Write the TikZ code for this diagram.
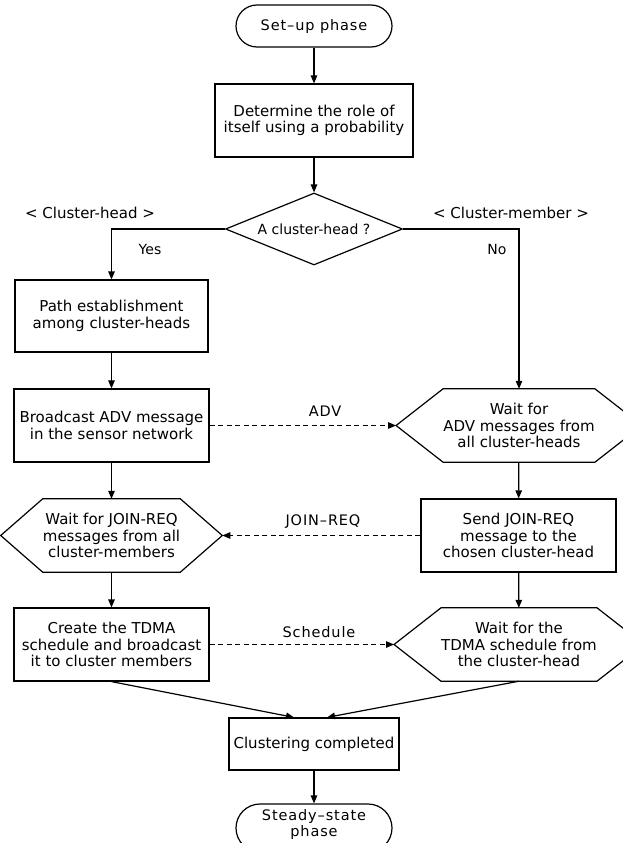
\documentclass[tikz,border=0pt]{standalone}
\usepackage{fontspec}
\setmainfont{DejaVu Sans}
\newfontfamily\gfont[LetterSpace=6]{DejaVu Sans}
\usetikzlibrary{arrows.meta,shapes.geometric}
\begin{document}
\begin{tikzpicture}[x=1pt,y=-1pt,
  conn/.style={line width=1.2pt},
  arr/.style={conn, -{Triangle[length=8pt,width=6.5pt]}},
  dasharr/.style={arr, dash pattern=on 5pt off 3.5pt},
  txt/.style={align=center, inner sep=0pt, font=\fontsize{15}{16.5}\selectfont},
  box/.style={txt, draw, line width=1.2pt, rectangle},
  hexin/.style={txt, rectangle},
  term/.style={draw, line width=1.2pt, align=center, inner sep=0pt, minimum width=156pt, font=\gfont\fontsize{14.5}{16}\selectfont},
  lab/.style={inner sep=0pt, font=\fontsize{15}{17}\selectfont},
  small/.style={inner sep=0pt, font=\fontsize{14}{17}\selectfont},
  glab/.style={inner sep=0pt, font=\gfont\fontsize{14.5}{17}\selectfont},
]
\useasboundingbox (0,0) rectangle (623,843);

% centre column
\node[term, rounded corners=21pt, minimum height=42pt] (setup) at (314,26) {Set–up phase};
\node[box, minimum width=198pt, minimum height=73pt, font=\fontsize{15}{15.5}\selectfont] (det) at (314,120.5) {Determine the role of\\itself using a probability};
\node[shape=diamond, draw, conn, minimum width=177pt, minimum height=72pt, inner sep=0pt, aspect=2.46, font=\fontsize{14}{17}\selectfont] (dia) at (314,229) {A cluster-head ?};

% left column
\node[box, minimum width=193pt, minimum height=72pt] (path) at (111.5,316) {Path establishment\\among cluster-heads};
\node[box, minimum width=195pt, minimum height=73pt] (bc) at (111.5,425.5) {Broadcast ADV message\\in the sensor network};
\node[hexin, minimum width=109pt, minimum height=73pt] (join) at (111.5,535.5) {Wait for JOIN-REQ\\messages from all\\cluster-members};
\coordinate (joinL) at ([xshift=-42pt]join.west);
\coordinate (joinR) at ([xshift=42pt]join.east);
\draw[conn] (join.north west) -- (join.north east) -- (joinR) -- (join.south east) -- (join.south west) -- (joinL) -- cycle;
\node[box, minimum width=195pt, minimum height=73pt] (cre) at (111.5,644.5) {Create the TDMA\\schedule and broadcast\\it to cluster members};

% right column
\node[hexin, minimum width=100pt, minimum height=73pt] (adv) at (519,425.5) {Wait for\\ADV messages from\\all cluster-heads};
\coordinate (advL) at ([xshift=-47pt]adv.west);
\coordinate (advR) at ([xshift=47pt]adv.east);
\draw[conn] (adv.north west) -- (adv.north east) -- (advR) -- (adv.south east) -- (adv.south west) -- (advL) -- cycle;
\node[box, minimum width=195pt, minimum height=73pt] (send) at (518.5,535.5) {Send JOIN-REQ\\message to the\\chosen cluster-head};
\node[hexin, minimum width=100pt, minimum height=73pt] (tdma) at (519,644.5) {Wait for the\\TDMA schedule from\\the cluster-head};
\coordinate (tdmaL) at ([xshift=-47pt]tdma.west);
\coordinate (tdmaR) at ([xshift=47pt]tdma.east);
\draw[conn] (tdma.north west) -- (tdma.north east) -- (tdmaR) -- (tdma.south east) -- (tdma.south west) -- (tdmaL) -- cycle;

% bottom
\node[box, minimum width=170pt, minimum height=52pt] (clu) at (314,744) {Clustering completed};
\node[term, rounded corners=24pt, minimum height=48pt] (steady) at (314,828) {};
\node[inner sep=0pt, align=center, font=\gfont\fontsize{14.5}{16}\selectfont] (steadytxt) at (314,824.5) {Steady–state\\phase};

% labels
\node[lab] (lhead) at (90,213) {< Cluster-head >};
\node[lab] (lmem) at (511,213) {< Cluster-member >};
\node[small] (yes) at (150,249) {Yes};
\node[small] (no) at (497,249) {No};
\node[glab] (ladv) at (325,411) {ADV};
\node[glab] (ljoin) at (323,522) {JOIN–REQ};
\node[glab] (lsch) at (319,632) {Schedule};

% connectors
\draw[arr] (setup) -- (det);
\draw[arr] (det) -- (dia);
\draw[arr] (dia.west) -| (path.north);
\draw[arr] (dia.east) -| (adv.north);
\draw[arr] (path) -- (bc);
\draw[arr] (bc) -- (join);
\draw[arr] (join) -- (cre);
\draw[arr] (adv) -- (send);
\draw[arr] (send) -- (tdma);
\draw[dasharr] (bc.east) -- (advL);
\draw[dasharr] (send.west) -- (joinR);
\draw[dasharr] (cre.east) -- (tdmaL);
\draw[arr] (cre.south) -- ([xshift=-20pt]clu.north);
\draw[arr] (tdma.south) -- ([xshift=13pt]clu.north);
\draw[arr] (clu) -- (steady);
\end{tikzpicture}
\end{document}
